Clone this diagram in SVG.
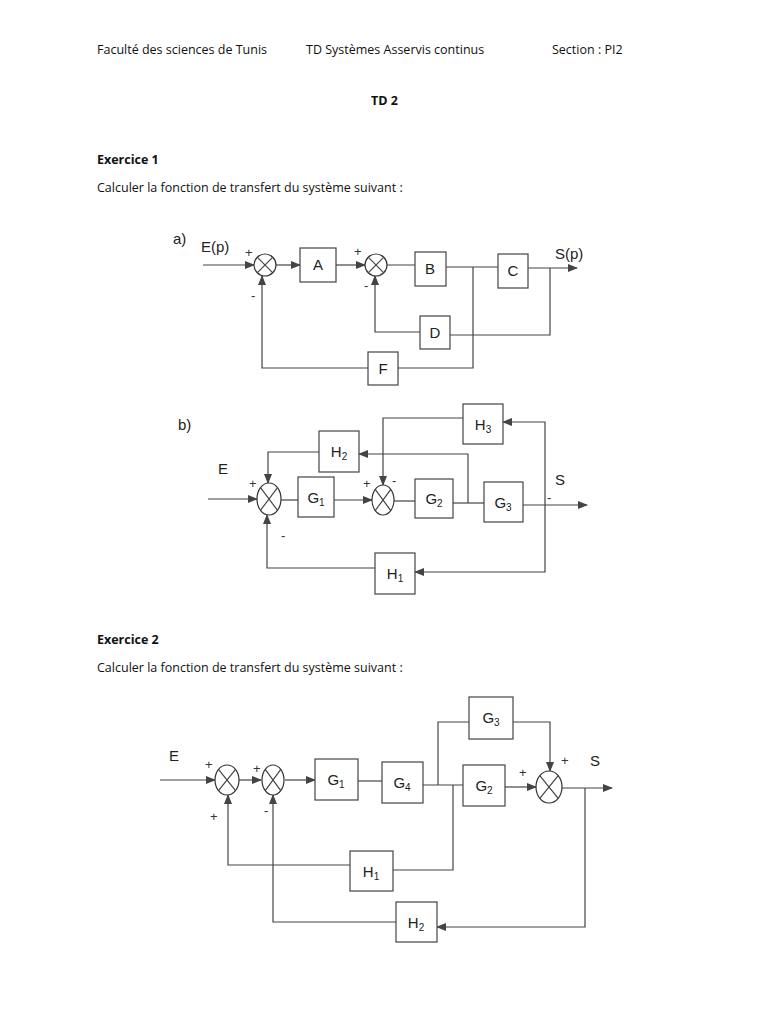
<svg xmlns="http://www.w3.org/2000/svg" width="768" height="1024" viewBox="0 0 768 1024">
<style>
.hd{font-family:"Open Sans","Liberation Sans",sans-serif;font-size:12.5px;fill:#111}
.b{font-weight:bold}
.lb{font-family:"Liberation Sans",sans-serif;font-size:15px;fill:#222}
.bx{fill:#fff;stroke:#444;stroke-width:1.2}
.sm{fill:#fff;stroke:#333;stroke-width:1.2}
.w{fill:none;stroke:#444;stroke-width:1.2}
.sg{font-family:"Liberation Sans",sans-serif;font-size:13px;fill:#333}
.sub{font-size:10px}
</style>
<defs>
<marker id="ar" markerWidth="10" markerHeight="8" refX="9" refY="4" orient="auto" markerUnits="userSpaceOnUse"><path d="M0,0 L10,4 L0,8 z" fill="#444"/></marker>
</defs>
<rect width="768" height="1024" fill="#fff"/>
<text class="hd" x="97" y="54">Faculté des sciences de Tunis</text>
<text class="hd" x="306" y="54">TD Systèmes Asservis continus</text>
<text class="hd" x="552" y="54">Section : PI2</text>
<text class="hd b" x="371" y="105">TD 2</text>
<text class="hd b" x="97" y="164">Exercice 1</text>
<text class="hd" x="97" y="192">Calculer la fonction de transfert du système suivant :</text>
<text class="hd b" x="97" y="644">Exercice 2</text>
<text class="hd" x="97" y="672">Calculer la fonction de transfert du système suivant :</text>

<g id="connectors">
<path class="w" d="M203,265 H254" marker-end="url(#ar)"/>
<path class="w" d="M276,265 H300" marker-end="url(#ar)"/>
<path class="w" d="M336,265 H365" marker-end="url(#ar)"/>
<path class="w" d="M387,265 H415 M446,267 H498 M528,268 H577" marker-end="url(#ar)"/>
<path class="w" d="M420,332 H375 V276" marker-end="url(#ar)"/>
<path class="w" d="M550,268 V335 H450"/>
<path class="w" d="M473,267 V368 H398"/>
<path class="w" d="M368,368 H262 V276" marker-end="url(#ar)"/>

<path class="w" d="M208,499 H257" marker-end="url(#ar)"/>
<path class="w" d="M281,500 H298"/>
<path class="w" d="M334,500 H372" marker-end="url(#ar)"/>
<path class="w" d="M394,501 H415"/>
<path class="w" d="M453,503 H484"/>
<path class="w" d="M523,505 H587" marker-end="url(#ar)"/>
<path class="w" d="M545,505 V422 H503" marker-end="url(#ar)"/>
<path class="w" d="M463,418 H383 V485" marker-end="url(#ar)"/>
<path class="w" d="M468,503 V454 H359" marker-end="url(#ar)"/>
<path class="w" d="M319,452 H268 V483" marker-end="url(#ar)"/>
<path class="w" d="M545,505 V572 H415" marker-end="url(#ar)"/>
<path class="w" d="M375,568 H267 V515" marker-end="url(#ar)"/>

<path class="w" d="M160,780 H215" marker-end="url(#ar)"/>
<path class="w" d="M239,780 H261" marker-end="url(#ar)"/>
<path class="w" d="M285,780 H315" marker-end="url(#ar)"/>
<path class="w" d="M358,781 H382"/>
<path class="w" d="M423,785 H463"/>
<path class="w" d="M438,785 V722 H469"/>
<path class="w" d="M513,722 H550 V771" marker-end="url(#ar)"/>
<path class="w" d="M505,787 H536" marker-end="url(#ar)"/>
<path class="w" d="M562,788 H612" marker-end="url(#ar)"/>
<path class="w" d="M453,785 V870 H393"/>
<path class="w" d="M350,865 H228 V795" marker-end="url(#ar)"/>
<path class="w" d="M585,788 V927 H437" marker-end="url(#ar)"/>
<path class="w" d="M396,922 H273 V795" marker-end="url(#ar)"/>
</g>

<text class="lb" x="173" y="244">a)</text>
<text class="lb" x="201" y="252">E(p)</text>
<text class="lb" x="555" y="259">S(p)</text>
<text class="sg" x="245" y="257">+</text>
<text class="sg" x="251" y="300">-</text>
<text class="sg" x="354" y="256">+</text>
<text class="sg" x="364" y="290">-</text>
<g id="sumA1"><circle class="sm" cx="265" cy="265" r="11"/><path class="w" d="M257.2,257.2 L272.8,272.8 M272.8,257.2 L257.2,272.8"/></g>
<g id="sumA2"><circle class="sm" cx="376" cy="265" r="11"/><path class="w" d="M368.2,257.2 L383.8,272.8 M383.8,257.2 L368.2,272.8"/></g>
<g id="A"><rect class="bx" x="300" y="248" width="36" height="34"/><text class="lb" x="318" y="270" text-anchor="middle">A</text></g>
<g id="B"><rect class="bx" x="415" y="252" width="31" height="34"/><text class="lb" x="430" y="274" text-anchor="middle">B</text></g>
<g id="C"><rect class="bx" x="498" y="254" width="30" height="34"/><text class="lb" x="513" y="276" text-anchor="middle">C</text></g>
<g id="D"><rect class="bx" x="420" y="316" width="30" height="33"/><text class="lb" x="435" y="338" text-anchor="middle">D</text></g>
<g id="F"><rect class="bx" x="368" y="352" width="30" height="33"/><text class="lb" x="383" y="374" text-anchor="middle">F</text></g>

<text class="lb" x="178" y="430">b)</text>
<text class="lb" x="218" y="474">E</text>
<text class="lb" x="555" y="485">S</text>
<text class="sg" x="249" y="488">+</text>
<text class="sg" x="281" y="540">-</text>
<text class="sg" x="363" y="488">+</text>
<text class="sg" x="392" y="485">-</text>
<text class="sg" x="547" y="502">-</text>
<g id="sumB1"><ellipse class="sm" cx="269" cy="499" rx="12" ry="16"/><path class="w" d="M260.5,487.7 L277.5,510.3 M277.5,487.7 L260.5,510.3"/></g>
<g id="sumB2"><ellipse class="sm" cx="383" cy="500" rx="11" ry="15"/><path class="w" d="M375.2,489.4 L390.8,510.6 M390.8,489.4 L375.2,510.6"/></g>
<g id="G1b"><rect class="bx" x="298" y="477" width="36" height="40"/><text class="lb" x="316" y="503" text-anchor="middle">G<tspan class="sub" dy="3">1</tspan></text></g>
<g id="G2b"><rect class="bx" x="415" y="479" width="38" height="39"/><text class="lb" x="434" y="504" text-anchor="middle">G<tspan class="sub" dy="3">2</tspan></text></g>
<g id="G3b"><rect class="bx" x="484" y="482" width="39" height="40"/><text class="lb" x="503" y="508" text-anchor="middle">G<tspan class="sub" dy="3">3</tspan></text></g>
<g id="H3b"><rect class="bx" x="463" y="404" width="40" height="40"/><text class="lb" x="483" y="430" text-anchor="middle">H<tspan class="sub" dy="3">3</tspan></text></g>
<g id="H2b"><rect class="bx" x="319" y="431" width="40" height="41"/><text class="lb" x="339" y="457" text-anchor="middle">H<tspan class="sub" dy="3">2</tspan></text></g>
<g id="H1b"><rect class="bx" x="375" y="553" width="40" height="41"/><text class="lb" x="395" y="579" text-anchor="middle">H<tspan class="sub" dy="3">1</tspan></text></g>

<text class="lb" x="169" y="761">E</text>
<text class="lb" x="590" y="766">S</text>
<text class="sg" x="205" y="769">+</text>
<text class="sg" x="210" y="821">+</text>
<text class="sg" x="253" y="773">+</text>
<text class="sg" x="264" y="815">-</text>
<text class="sg" x="519" y="777">+</text>
<text class="sg" x="561" y="765">+</text>
<g id="sumC1"><ellipse class="sm" cx="227" cy="780" rx="12" ry="15"/><path class="w" d="M218.5,769.4 L235.5,790.6 M235.5,769.4 L218.5,790.6"/></g>
<g id="sumC2"><ellipse class="sm" cx="273" cy="780" rx="11" ry="15"/><path class="w" d="M265.2,769.4 L280.8,790.6 M280.8,769.4 L265.2,790.6"/></g>
<g id="sumC3"><ellipse class="sm" cx="549" cy="787" rx="13" ry="16"/><path class="w" d="M539.8,775.7 L558.2,798.3 M558.2,775.7 L539.8,798.3"/></g>
<g id="G1c"><rect class="bx" x="315" y="759" width="43" height="41"/><text class="lb" x="336" y="785" text-anchor="middle">G<tspan class="sub" dy="3">1</tspan></text></g>
<g id="G4c"><rect class="bx" x="382" y="762" width="41" height="41"/><text class="lb" x="402" y="788" text-anchor="middle">G<tspan class="sub" dy="3">4</tspan></text></g>
<g id="G3c"><rect class="bx" x="469" y="697" width="44" height="42"/><text class="lb" x="491" y="723" text-anchor="middle">G<tspan class="sub" dy="3">3</tspan></text></g>
<g id="G2c"><rect class="bx" x="463" y="765" width="42" height="41"/><text class="lb" x="484" y="791" text-anchor="middle">G<tspan class="sub" dy="3">2</tspan></text></g>
<g id="H1c"><rect class="bx" x="350" y="851" width="43" height="40"/><text class="lb" x="371" y="877" text-anchor="middle">H<tspan class="sub" dy="3">1</tspan></text></g>
<g id="H2c"><rect class="bx" x="396" y="902" width="41" height="40"/><text class="lb" x="416" y="928" text-anchor="middle">H<tspan class="sub" dy="3">2</tspan></text></g>
</svg>
